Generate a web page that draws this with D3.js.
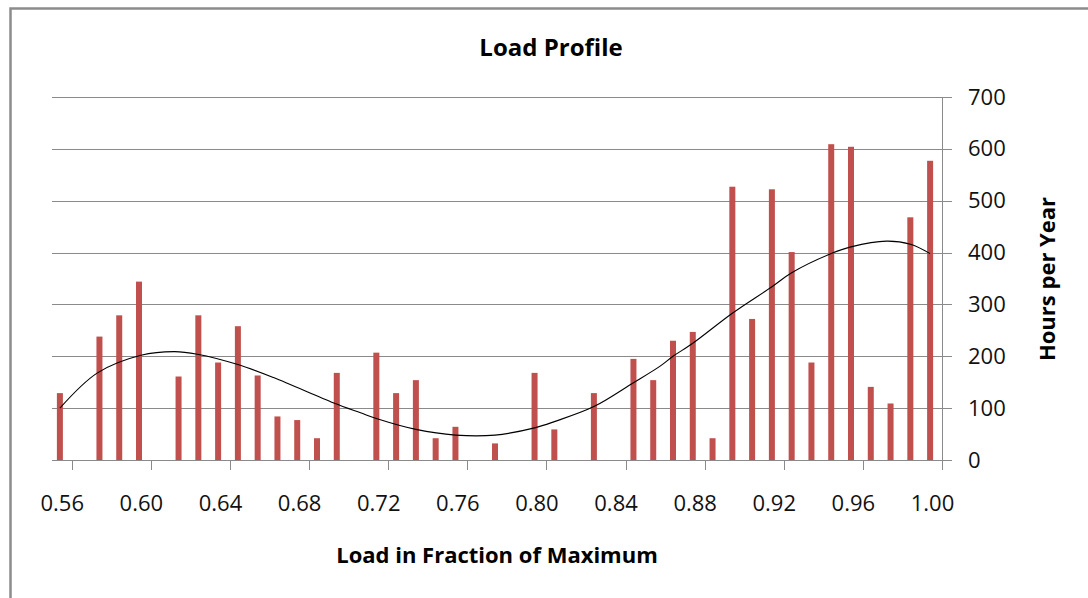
<!DOCTYPE html>
<html>
  <head>
    <script src="https://cdn.jsdelivr.net/npm/d3@7" charset="utf-8"></script>
    <style type="text/css">
      body {
        margin: 0;
        background: #fff;
        font-family: "Open Sans", sans-serif;
      }
      .grid line { stroke: #8a8a8a; stroke-width: 1; shape-rendering: crispEdges; }
      .grid path { display: none; }
      .axis path, .axis line { fill: none; stroke: #8a8a8a; shape-rendering: crispEdges; }
      .axis text { font-family: "Open Sans", sans-serif; font-size: 22px; fill: #111; }
    </style>
  </head>
  <body>
    <script type="text/javascript">
      var w = 1088, h = 598;

      // load bins (fraction of maximum) and hours per year in each bin
      var loads = [0.555, 0.565, 0.575, 0.585, 0.595, 0.605, 0.615, 0.625, 0.635, 0.645,
                   0.655, 0.665, 0.675, 0.685, 0.695, 0.705, 0.715, 0.725, 0.735, 0.745,
                   0.755, 0.765, 0.775, 0.785, 0.795, 0.805, 0.815, 0.825, 0.835, 0.845,
                   0.855, 0.865, 0.875, 0.885, 0.895, 0.905, 0.915, 0.925, 0.935, 0.945,
                   0.955, 0.965, 0.975, 0.985, 0.995];
      var hours = [129, 0, 238, 279, 344, 0, 161, 279, 188, 258,
                   163, 84, 77, 42, 168, 0, 207, 129, 154, 42,
                   64, 0, 32, 0, 168, 59, 0, 129, 0, 195,
                   154, 230, 247, 42, 527, 272, 522, 401, 188, 609,
                   604, 141, 109, 468, 577];

      // polynomial trendline
      var trendLoad = [0.555, 0.574, 0.596, 0.613, 0.6245, 0.645, 0.663, 0.6935, 0.707, 0.715,
                       0.735, 0.755, 0.775, 0.795, 0.805, 0.825, 0.845, 0.8585, 0.865, 0.875,
                       0.895, 0.915, 0.925, 0.945, 0.955, 0.973, 0.985, 0.995];
      var trendHours = [100, 168, 202, 209, 204, 184, 159, 110, 91, 80,
                        59, 48, 48, 62, 74, 103, 149, 181, 200, 225,
                        283, 334, 361, 398, 411, 422, 416, 398];

      var xTicks = [0.56, 0.60, 0.64, 0.68, 0.72, 0.76, 0.80, 0.84, 0.88, 0.92, 0.96, 1.00];
      var yTicks = [0, 100, 200, 300, 400, 500, 600, 700];

      var margin = { top: 97, right: 146, bottom: 138, left: 52 };
      var pw = w - margin.left - margin.right,
          ph = h - margin.top - margin.bottom;

      var svg = d3.select("body").append("svg")
          .attr("width", w)
          .attr("height", h);

      // outer chart border (runs off the right and bottom of the picture)
      svg.append("rect")
          .attr("x", 10.5).attr("y", 8.5)
          .attr("width", w + 20).attr("height", h + 20)
          .attr("fill", "none")
          .attr("stroke", "#8c8c8c")
          .attr("stroke-width", 2.5);

      var g = svg.append("g")
          .attr("transform", "translate(" + [margin.left, margin.top] + ")");

      var xScale = d3.scaleLinear().domain([0.55, 1.0]).range([0, pw]);
      var yScale = d3.scaleLinear().domain([0, 700]).range([ph, 0]);
      var barShift = -2, barW = 6;

      // horizontal gridlines
      g.append("g")
          .attr("class", "grid")
          .attr("transform", "translate(" + pw + ",0)")
          .call(d3.axisLeft(yScale).tickValues(yTicks).tickSize(pw).tickFormat(""));

      // bars
      g.selectAll("rect.bar")
          .data(loads.map(function (d, i) { return { x: d, y: hours[i] }; }))
          .enter()
          .append("rect")
          .attr("class", "bar")
          .attr("x", function (d) { return xScale(d.x) + barShift - barW / 2; })
          .attr("y", function (d) { return yScale(d.y); })
          .attr("width", barW)
          .attr("height", function (d) { return ph - yScale(d.y); })
          .attr("fill", "#c0504d");

      // trendline
      var line = d3.line()
          .x(function (d) { return xScale(d[0]) + barShift; })
          .y(function (d) { return yScale(d[1]); })
          .curve(d3.curveCatmullRom);
      g.append("path")
          .datum(trendLoad.map(function (d, i) { return [d, trendHours[i]]; }))
          .attr("d", line)
          .attr("fill", "none")
          .attr("stroke", "#000")
          .attr("stroke-width", 1.1);

      // bottom axis
      var xAxisG = g.append("g")
          .attr("class", "axis")
          .attr("transform", "translate(0," + ph + ")")
          .call(d3.axisBottom(xScale).tickValues(xTicks).tickSize(10).tickSizeOuter(0)
                .tickFormat(d3.format(".2f")));
      xAxisG.selectAll("text")
          .attr("y", 51)
          .attr("dy", null)
          .attr("dx", -10);

      // right axis
      g.append("g")
          .attr("class", "axis")
          .attr("transform", "translate(" + pw + ",0)")
          .call(d3.axisRight(yScale).tickValues(yTicks).tickSize(10).tickSizeOuter(0).tickPadding(16));

      // titles
      svg.append("text")
          .attr("x", 551).attr("y", 56)
          .attr("text-anchor", "middle")
          .style("font-size", "24px").style("font-weight", "bold")
          .text("Load Profile");

      svg.append("text")
          .attr("x", 497).attr("y", 563)
          .attr("text-anchor", "middle")
          .style("font-size", "22px").style("font-weight", "bold")
          .text("Load in Fraction of Maximum");

      svg.append("text")
          .attr("transform", "translate(1055,279) rotate(-90)")
          .attr("text-anchor", "middle")
          .style("font-size", "22px").style("font-weight", "bold")
          .text("Hours per Year");
    </script>
  </body>
</html>
